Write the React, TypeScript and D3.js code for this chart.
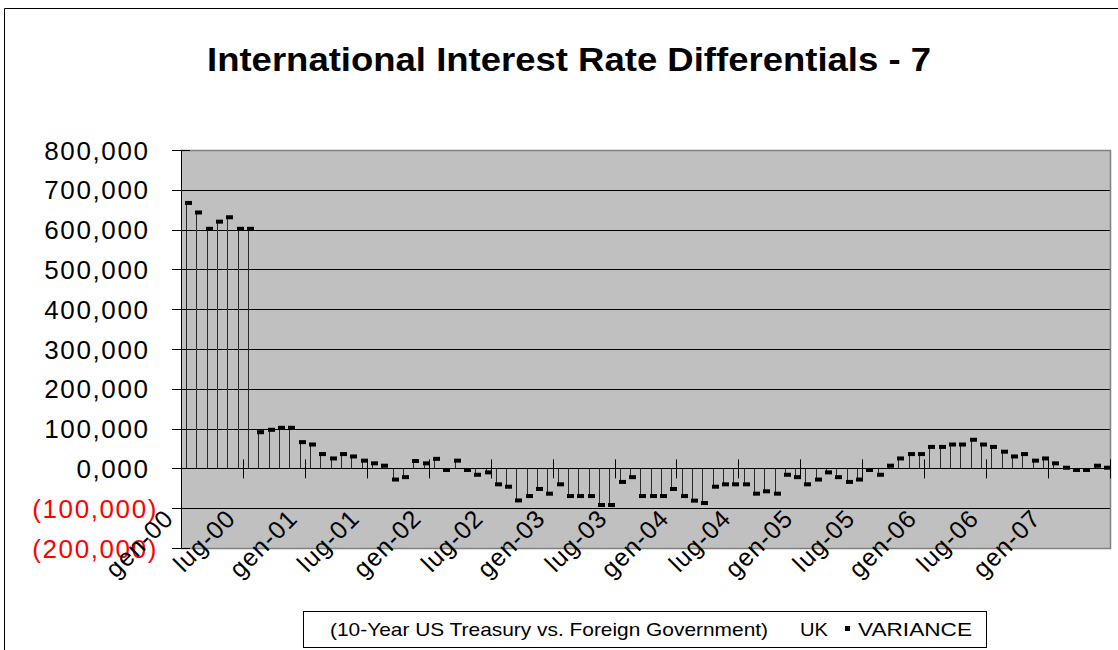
import React from "react";
import * as d3 from "d3";

const MONTHS = ["gen", "feb", "mar", "apr", "mag", "giu", "lug", "ago", "set", "ott", "nov", "dic"];
const START_YEAR = 2000;

const variance: number[] = [
  667, 643, 602, 620, 631, 602, 602,
  91, 97, 102, 102, 66, 60, 36, 25, 36, 30, 19.5, 12.7, 6.8, -28, -22, 18.6, 12.7, 24,
  -4, 19.5, -4, -16, -10, -40, -46, -80.5, -69.5, -51.7, -63.5, -40, -69.5, -69.5, -69.5, -92, -92,
  -34, -22, -69.5, -69.5, -69.5, -51.7, -69.5, -81, -87, -46, -40, -40, -40, -63.5, -57.6, -63.5, -16, -22,
  -40, -28, -10, -22, -34, -28, -4, -16, 6.8, 25, 36, 36, 54, 54, 60, 60, 72, 60, 54,
  42, 30, 36, 19.5, 25, 12.7, 1.7, -4, -4, 6.8, 1.7,
];

const categories: string[] = variance.map((_, i) => {
  const m = i % 12;
  const y = START_YEAR + Math.floor(i / 12);
  return `${MONTHS[m]}-${String(y % 100).padStart(2, "0")}`;
});

const yTicks: number[] = [800, 700, 600, 500, 400, 300, 200, 100, 0, -100, -200];
const yTickLabels: string[] = [
  "800,000", "700,000", "600,000", "500,000", "400,000", "300,000", "200,000", "100,000", "0,000", "(100,000)", "(200,000)",
];

const TITLE = "International Interest Rate Differentials - 7";
const LEGEND_PREFIX = "(10-Year US Treasury vs. Foreign Government)";
const LEGEND_COUNTRY = "UK";
const LEGEND_SERIES = "VARIANCE";

const W = 1118;
const H = 650;
const PL = 181, PR = 1110, PT = 150, PB = 548;

export default function App() {
  const x = d3.scaleBand<number>().domain(d3.range(categories.length)).range([PL, PR]).padding(0);
  const y = d3.scaleLinear().domain([-200, 800]).range([PB, PT]);
  const bw = x.bandwidth();
  const cx = (i: number) => (x(i) as number) + bw / 2;
  const y0 = y(0);
  const snap = (v: number) => Math.round(v) + 0.5;

  const tickIdx = d3.range(0, categories.length + 1, 6);
  const labelIdx = d3.range(0, categories.length, 6);

  return (
    <svg width={W} height={H} style={{ position: "absolute", left: 0, top: 0, background: "#fff" }}
      fontFamily="Arial, 'Liberation Sans', sans-serif">
      <rect x={0} y={0} width={W} height={H} fill="#fff" />
      {/* chart border */}
      <line x1={4.5} y1={8.5} x2={W} y2={8.5} stroke="#000" strokeWidth={1} />
      <line x1={4.5} y1={8.5} x2={4.5} y2={H} stroke="#000" strokeWidth={1} />

      {/* title */}
      <text x={569} y={71} textAnchor="middle" fontSize={33} fontWeight="bold" textLength={724} lengthAdjust="spacingAndGlyphs">
        {TITLE}
      </text>

      {/* plot area */}
      <rect x={PL} y={PT} width={PR - PL} height={PB - PT} fill="#C0C0C0" />
      {yTicks.filter(t => t !== 800 && t !== -200).map(t => (
        <line key={"g" + t} x1={PL} x2={PR} y1={snap(y(t))} y2={snap(y(t))} stroke="#000" strokeWidth={1} />
      ))}
      {/* plot border */}
      <path d={`M${PL},${snap(PT)}H${snap(PR)}V${snap(PB)}H${PL}`} fill="none" stroke="#808080" strokeWidth={1.5} />

      {/* drop lines */}
      {variance.map((v, i) => (
        <line key={"d" + i} x1={snap(cx(i))} x2={snap(cx(i))} y1={y(v)} y2={y0} stroke="#2a2a2a" strokeWidth={1} />
      ))}

      {/* x axis at zero */}
      <line x1={PL} x2={PR} y1={snap(y0)} y2={snap(y0)} stroke="#000" strokeWidth={1} />
      {tickIdx.map(i => {
        const xx = i < categories.length ? (x(i) as number) : PR;
        return <line key={"xt" + i} x1={snap(xx)} x2={snap(xx)} y1={y0 - 9} y2={y0 + 10} stroke="#000" strokeWidth={1} />;
      })}

      {/* markers */}
      {variance.map((v, i) => (
        <rect key={"m" + i} x={Math.round(cx(i)) - 1} y={y(v) - 2} width={7} height={4} fill="#000" />
      ))}

      {/* y axis */}
      <line x1={snap(PL)} x2={snap(PL)} y1={PT} y2={PB} stroke="#000" strokeWidth={1} />
      {yTicks.map((t, k) => (
        <g key={"yt" + t}>
          <line x1={172} x2={190} y1={snap(y(t))} y2={snap(y(t))} stroke="#000" strokeWidth={1} />
          <text x={t < 0 ? 158 : 149.5} y={y(t) + 9.5} textAnchor="end" fontSize={26} letterSpacing={1.6}
            fill={t < 0 ? "#FF0000" : "#000"}>
            {yTickLabels[k]}
          </text>
        </g>
      ))}

      {/* x labels */}
      {labelIdx.map(i => {
        const ax = cx(i) - 11;
        const ay = 520;
        return (
          <text key={"xl" + i} x={ax} y={ay} textAnchor="end" fontSize={25} letterSpacing={1}
            transform={`rotate(-45 ${ax} ${ay})`} fill="#000">
            {categories[i]}
          </text>
        );
      })}

      {/* legend */}
      <rect x={303.5} y={611.5} width={683} height={36} fill="#fff" stroke="#000" strokeWidth={1} />
      <text x={330} y={636} fontSize={19} textLength={438} lengthAdjust="spacingAndGlyphs">{LEGEND_PREFIX}</text>
      <text x={800} y={636} fontSize={19} textLength={28} lengthAdjust="spacingAndGlyphs">{LEGEND_COUNTRY}</text>
      <rect x={845} y={626} width={5} height={5} fill="#000" />
      <text x={858} y={636} fontSize={19} textLength={114} lengthAdjust="spacingAndGlyphs">{LEGEND_SERIES}</text>
    </svg>
  );
}
